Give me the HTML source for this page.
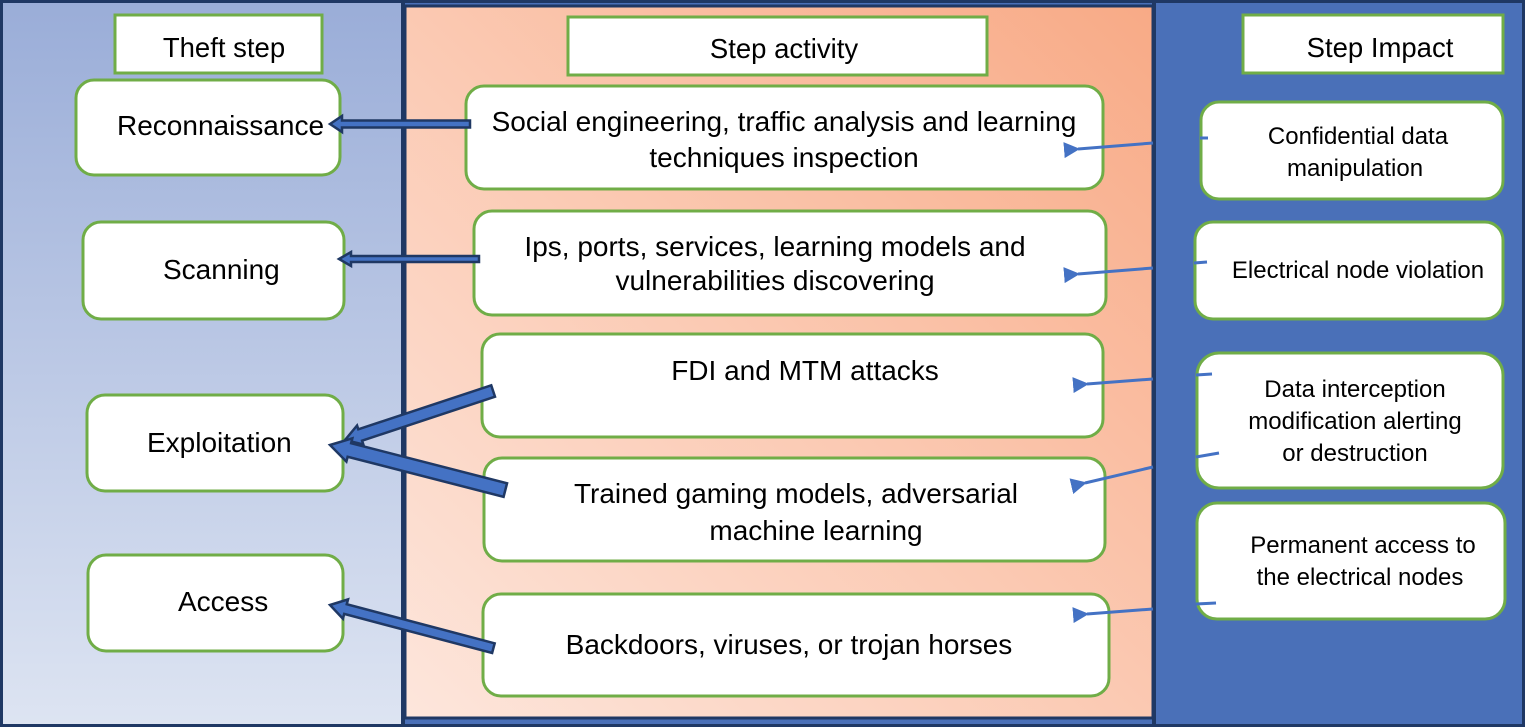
<!DOCTYPE html>
<html><head><meta charset="utf-8"><style>
html,body{margin:0;padding:0;background:#fff;}
svg{display:block;}
text{font-family:"Liberation Sans",Arial,sans-serif;fill:#000;}
</style></head><body>
<svg width="1525" height="727" viewBox="0 0 1525 727" xmlns="http://www.w3.org/2000/svg">
<defs>
<linearGradient id="lg" x1="0" y1="0" x2="0" y2="1">
<stop offset="0" stop-color="#9aadd8"/><stop offset="1" stop-color="#dde4f2"/>
</linearGradient>
<linearGradient id="mg" x1="0" y1="1" x2="1" y2="0">
<stop offset="0" stop-color="#fde6dc"/><stop offset="0.5" stop-color="#fbc9b2"/><stop offset="1" stop-color="#f8aa86"/>
</linearGradient>
<marker id="ah" markerWidth="16" markerHeight="16" refX="2" refY="8" orient="auto" markerUnits="userSpaceOnUse" viewBox="0 0 16 16">
<path d="M16,0 L0,8 L16,16 z" fill="#4472c4"/>
</marker>
</defs>
<rect x="0" y="0" width="1525" height="727" fill="#4a70b8"/>
<rect x="2" y="2" width="401" height="722" fill="url(#lg)"/>
<rect x="405" y="6" width="748" height="712" fill="url(#mg)" stroke="#1f3864" stroke-width="3"/>
<rect x="1.5" y="1.5" width="1522" height="724" fill="none" stroke="#1f3864" stroke-width="3"/>
<line x1="403" y1="2" x2="403" y2="725" stroke="#1f3864" stroke-width="4"/>
<line x1="1154" y1="2" x2="1154" y2="725" stroke="#1f3864" stroke-width="4"/>

<g fill="#fff" stroke="#70ad47" stroke-width="3">
<rect x="115" y="15" width="207" height="58"/>
<rect x="568" y="17" width="419" height="58"/>
<rect x="1243" y="15" width="260" height="58"/>
<rect x="76" y="80" width="264" height="95" rx="18"/>
<rect x="83" y="222" width="261" height="97" rx="18"/>
<rect x="87" y="395" width="256" height="96" rx="18"/>
<rect x="88" y="555" width="255" height="96" rx="18"/>
<rect x="466" y="86" width="637" height="103" rx="18"/>
<rect x="474" y="211" width="632" height="104" rx="18"/>
<rect x="482" y="334" width="621" height="103" rx="18"/>
<rect x="484" y="458" width="621" height="103" rx="18"/>
<rect x="483" y="594" width="626" height="102" rx="18"/>
<rect x="1201" y="102" width="302" height="97" rx="18"/>
<rect x="1195" y="222" width="308" height="97" rx="18"/>
<rect x="1197" y="353" width="306" height="135" rx="22"/>
<rect x="1197" y="503" width="308" height="116" rx="20"/>
</g>

<g font-size="27.5">
<text x="224" y="57" text-anchor="middle">Theft step</text>
<text x="784" y="58" text-anchor="middle">Step activity</text>
<text x="1380" y="57" text-anchor="middle">Step Impact</text>
<text x="117" y="135" font-size="28">Reconnaissance</text>
<text x="163" y="279" font-size="28">Scanning</text>
<text x="147" y="452" font-size="28">Exploitation</text>
<text x="178" y="611" font-size="28">Access</text>
</g>
<g font-size="28" text-anchor="middle">
<text x="784" y="131">Social engineering, traffic analysis and learning</text>
<text x="784" y="167">techniques inspection</text>
<text x="775" y="256">Ips, ports, services, learning models and</text>
<text x="775" y="290">vulnerabilities discovering</text>
<text x="805" y="380">FDI and MTM attacks</text>
<text x="796" y="503">Trained gaming models, adversarial</text>
<text x="816" y="540">machine learning</text>
<text x="789" y="654">Backdoors, viruses, or trojan horses</text>
</g>
<g font-size="24" text-anchor="middle">
<text x="1358" y="144">Confidential data</text>
<text x="1355" y="176">manipulation</text>
<text x="1358" y="278">Electrical node violation</text>
<text x="1355" y="397">Data interception</text>
<text x="1355" y="429">modification  alerting</text>
<text x="1355" y="461">or destruction</text>
<text x="1363" y="553">Permanent access to</text>
<text x="1360" y="585">the electrical nodes</text>
</g>

<g fill="#4472c4" stroke="#1f3864" stroke-width="2.5" stroke-linejoin="miter">
<polygon transform="translate(330,124)" points="0,0 12,-8 12,-3.5 140,-3.5 140,3.5 12,3.5 12,8"/>
<polygon transform="translate(339,259)" points="0,0 12,-7 12,-3 140,-3 140,3 12,3 12,7"/>
<polygon transform="translate(345,440) rotate(-18.3)" points="0,0 16,-10 16,-6 156,-6 156,6 16,6 16,10"/>
<polygon transform="translate(330,445) rotate(14.4)" points="0,0 20,-12 20,-7 181,-7 181,7 20,7 20,12"/>
<polygon transform="translate(330,605) rotate(14.8)" points="0,0 16,-10 16,-5 169,-5 169,5 16,5 16,10"/>
</g>

<g stroke="#4472c4" stroke-width="3" fill="none">
<line x1="1153" y1="143" x2="1078" y2="149" marker-end="url(#ah)"/>
<line x1="1200" y1="138" x2="1208" y2="138"/>
<line x1="1153" y1="268" x2="1078" y2="274" marker-end="url(#ah)"/>
<line x1="1194" y1="263" x2="1207" y2="262"/>
<line x1="1153" y1="379" x2="1087" y2="384" marker-end="url(#ah)"/>
<line x1="1196" y1="375" x2="1212" y2="374"/>
<line x1="1153" y1="467" x2="1085" y2="483" marker-end="url(#ah)"/>
<line x1="1196" y1="457" x2="1219" y2="453"/>
<line x1="1153" y1="609" x2="1087" y2="614" marker-end="url(#ah)"/>
<line x1="1196" y1="604" x2="1216" y2="603"/>
</g>
</svg>
</body></html>
